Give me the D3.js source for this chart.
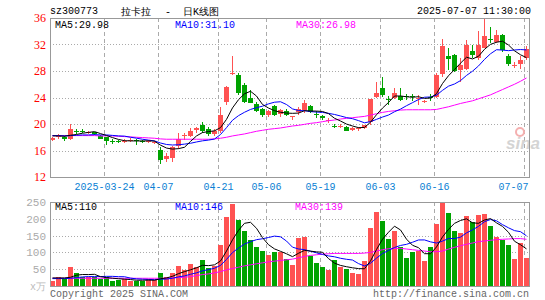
<!DOCTYPE html>
<html>
<head>
<meta charset="utf-8">
<script src="https://cdn.jsdelivr.net/npm/d3@7"></script>
<style>
body { margin: 0; background: #fff; }
svg text { font-family: "Liberation Mono", "DejaVu Sans Mono", monospace; font-size: 10px; }
</style>
</head>
<body>
<div id="container"></div>
<script>
/* DATA */
const dates = [
  "03-11","03-12","03-13","03-14","03-17","03-18","03-19","03-20","03-21","03-24",
  "03-25","03-26","03-27","03-28","03-31","04-01","04-02","04-03","04-07","04-08",
  "04-09","04-10","04-11","04-14","04-15","04-16","04-17","04-18","04-21","04-22",
  "04-23","04-24","04-25","04-28","04-29","04-30","05-06","05-07","05-08","05-09",
  "05-12","05-13","05-14","05-15","05-16","05-19","05-20","05-21","05-22","05-23",
  "05-26","05-27","05-28","05-29","05-30","06-03","06-04","06-05","06-06","06-09",
  "06-10","06-11","06-12","06-13","06-16","06-17","06-18","06-19","06-20","06-23",
  "06-24","06-25","06-26","06-27","06-30","07-01","07-02","07-03","07-04","07-07"
];
const openP = [
  17.7,18.05,18.1,17.8,18.9,18.95,18.6,18.75,18.25,18.0,
  17.4,17.4,17.4,17.45,17.6,17.45,17.3,17.25,16.1,14.7,
  14.8,16.7,18.2,18.3,19.0,19.9,19.3,18.45,19.0,23.4,
  27.55,27.4,25.9,24.0,23.0,22.2,21.35,22.7,21.5,22.0,
  21.05,21.7,22.1,22.7,21.45,21.2,20.55,19.75,19.65,19.6,
  19.1,19.15,19.35,20.2,24.1,25.5,23.7,23.9,24.3,24.3,
  24.2,23.9,23.3,24.15,24.1,27.4,30.3,30.4,28.2,28.3,
  31.0,29.9,31.5,32.8,32.4,33.5,30.2,28.85,29.0,29.9
];
const highP = [
  18.1,18.45,18.15,19.95,19.2,19.2,18.9,18.8,18.3,18.05,
  17.7,17.6,17.8,17.85,17.7,17.6,17.6,17.5,16.6,15.6,
  16.7,18.6,18.7,19.35,19.6,20.35,19.6,19.3,22.6,25.7,
  30.2,27.65,26.15,25.1,23.35,22.4,22.1,22.8,22.3,22.2,
  21.2,22.6,23.6,22.9,21.9,21.4,20.9,20.0,20.0,19.75,
  19.6,19.5,19.9,23.75,26.4,27.1,24.2,25.4,25.4,24.6,
  24.6,24.4,23.6,24.5,27.65,32.8,31.4,30.5,29.9,32.7,
  31.9,34.0,35.9,34.7,34.2,33.55,30.5,29.4,30.3,31.8
];
const lowP = [
  17.5,17.8,17.5,17.65,18.5,18.6,18.5,18.3,17.7,16.8,
  17.0,17.1,17.1,17.3,16.9,17.1,17.1,17.0,13.9,14.3,
  14.3,16.3,17.6,18.0,18.6,18.6,18.2,18.2,18.7,22.8,
  27.4,24.4,23.2,23.1,21.85,21.1,21.0,21.2,21.0,21.2,
  20.6,21.35,21.6,21.6,20.9,20.6,20.2,19.4,19.4,18.9,
  18.9,18.9,19.2,19.9,24.0,24.1,22.9,23.7,23.5,23.6,
  23.5,22.8,23.1,23.4,24.0,27.15,28.15,27.8,26.4,28.2,
  29.9,29.7,31.4,32.2,32.3,30.9,28.8,28.4,28.3,29.7
];
const closeP = [
  17.95,18.15,17.85,19.3,18.85,18.9,18.75,18.45,17.8,17.45,
  17.3,17.35,17.5,17.65,17.4,17.3,17.45,17.3,14.6,15.2,
  16.5,17.8,18.35,19.0,19.35,19.05,18.5,18.95,21.4,25.6,
  27.7,24.7,23.4,23.3,22.0,21.35,22.0,21.4,22.1,21.4,
  21.15,22.2,23.2,21.85,21.35,20.85,20.6,19.7,19.75,19.05,
  19.4,19.35,19.85,23.7,24.7,24.4,23.6,24.7,23.75,24.1,
  24.05,24.0,23.4,24.05,27.4,31.7,29.9,28.0,28.9,31.9,
  30.4,31.9,33.3,32.6,33.5,31.2,29.0,28.95,29.6,31.3
];
const ma5P = [
  18.2,18.2,18.15,18.3,18.42,18.61,18.73,18.85,18.55,18.27,
  17.95,17.67,17.48,17.45,17.44,17.44,17.46,17.42,16.81,16.37,
  16.21,16.28,16.49,17.37,18.2,18.71,18.85,18.97,19.45,20.7,
  22.43,23.67,24.56,24.94,24.22,22.95,22.41,22.01,21.77,21.65,
  21.61,21.65,22.01,21.96,21.95,21.89,21.57,20.87,20.45,19.99,
  19.7,19.45,19.48,20.27,21.4,22.4,23.25,24.22,24.23,24.11,
  24.04,24.12,23.86,23.92,24.58,26.11,27.29,28.21,29.18,30.08,
  29.82,30.22,31.28,32.02,32.34,32.5,31.92,31.05,30.45,30.01
];
const ma10P = [
  18.25,18.25,18.2,18.25,18.3,18.35,18.35,18.4,18.35,18.35,
  18.28,18.2,18.17,18.0,17.86,17.7,17.57,17.45,17.13,16.91,
  16.83,16.87,16.96,17.09,17.29,17.46,17.57,17.73,18.41,19.45,
  20.57,21.26,21.77,22.2,22.46,22.69,23.04,23.29,23.36,22.94,
  22.28,22.03,22.01,21.87,21.8,21.75,21.61,21.44,21.21,20.97,
  20.8,20.51,20.18,20.36,20.7,21.05,21.35,21.85,22.25,22.76,
  23.22,23.69,24.04,24.08,24.35,25.08,25.71,26.04,26.55,27.33,
  27.97,28.76,29.75,30.6,31.21,31.16,31.07,31.17,31.24,31.18
];
const ma30P = [
  18.25,18.25,18.25,18.25,18.25,18.25,18.25,18.25,18.2,18.2,
  18.2,18.15,18.1,18.05,18.0,17.95,17.9,17.85,17.75,17.7,
  17.7,17.7,17.7,17.7,17.7,17.7,17.7,17.75,17.85,18.0,
  18.2,18.35,18.5,18.7,18.9,19.05,19.2,19.3,19.4,19.55,
  19.7,19.8,19.95,20.1,20.2,20.35,20.5,20.6,20.75,20.85,
  20.95,21.05,21.15,21.35,21.55,21.75,21.9,22.0,22.1,22.15,
  22.15,22.15,22.15,22.15,22.2,22.4,22.6,22.85,23.1,23.3,
  23.5,23.8,24.1,24.4,24.8,25.2,25.6,26.0,26.45,26.95
];
const volume = [
  16,27,22,57,39,26,26,26,22,26,
  16,18,20,16,16,16,20,18,38,28,
  40,60,48,65,58,77,55,60,122,206,
  244,196,165,137,117,104,92,102,101,80,
  62,142,145,90,69,56,48,77,56,50,
  40,36,74,173,220,193,140,164,117,83,
  102,104,75,116,184,251,217,164,159,209,
  191,210,213,180,146,138,122,80,128,84
];
const ma5V = [
  24,24,24,26,32.2,34.2,34,34.8,27.8,25.2,
  23.2,21.6,20.4,19.2,17.2,17.2,17.6,17.2,21.6,24,
  28.8,36.8,42.8,48.2,54.2,61.6,60.6,63,74.4,104,
  137.4,165.6,186.6,189.6,171.8,143.8,123,110.4,103.2,95.8,
  87.4,97.4,106,103.8,101.6,100.4,81.6,68,61.2,57.4,
  54.2,51.8,51.2,74.6,108.6,139.2,160,178,166.8,139.4,
  121.2,114,96.2,96,116.2,146,168.6,186.4,195,200,
  188,186.6,196.4,200.6,188,177.4,159.8,133.2,122.8,110.4
];
const ma10V = [
  22,22,22,23,25,27,28,28,28,28.7,
  28.7,27.8,27.6,23.5,21.2,20.2,19.6,18.8,20.4,20.6,
  23,27.2,30,34.9,39.1,45.2,48.7,52.9,61.3,79.1,
  99.5,113.1,124.8,132,137.9,140.6,144.3,148.5,146.4,133.8,
  115.6,110.2,108.2,103.5,98.7,93.9,89.5,87,82.5,79.5,
  77.3,66.7,59.6,67.9,83,96.7,105.9,114.6,120.7,124,
  130.2,137,137.1,131.4,127.8,133.6,141.3,141.3,145.5,158.1,
  167,177.6,191.4,197.8,194,182.7,173.2,164.8,161.7,149.2
];
const ma30V = [
  23,23,23,23,23,23,23,23,23,23,
  23,23,23,23,23,23,23,23,23,23,
  24,25,26,28,31,34,36,39,43,48,
  52,56,60,63,66,69,72,74,76,78,
  80,84,88,91,93,95,96,97,97,97,
  97,97,98,100,104,108,111,112,112,110,
  108,106,104,102,102,104,110,115,120,124,
  128,132,134,136,138,139,140,141,141,139
];
const tickDates = ["03-24","04-07","04-21","05-06","05-19","06-03","06-16","07-07"];
const tickLabels = ["2025-03-24","04-07","04-21","05-06","05-19","06-03","06-16","07-07"];
const priceTicks = [12,16,20,24,28,32,36];
const volTicks = [50,100,150,200,250];

/* CONSTANTS */
const width = 545, height = 300;
const left = 50, right = 530;
const pTop = 18, pBottom = 177;
const vTop = 202, vBottom = 286;
const RED = "#ff5252", GREEN = "#00a300", GRID = "#aaa";

const svg = d3.select("#container").append("svg")
  .attr("width", width).attr("height", height);

/* SCALES */
const x = d3.scaleBand().domain(dates).range([left, right]);
const yP = d3.scaleLinear().domain([12, 36]).range([pBottom, pTop]);
const yV = d3.scaleLinear().domain([0, 250]).range([vBottom, vTop]);
const cx = i => x(dates[i]) + 2.5;

// grids
[[yP, priceTicks.slice(1, -1)], [yV, volTicks.slice(0, -1)]].forEach(([s, t]) => {
  svg.append("g").selectAll("line").data(t).join("line")
    .attr("x1", left).attr("x2", right)
    .attr("y1", d => Math.round(s(d)) + 0.5).attr("y2", d => Math.round(s(d)) + 0.5)
    .attr("stroke", GRID).attr("stroke-dasharray", "1,2");
});
[[pTop, pBottom], [vTop, vBottom]].forEach(([a, b]) => {
  svg.append("g").selectAll("line").data(tickDates).join("line")
    .attr("x1", d => x(d) + 0.5).attr("x2", d => x(d) + 0.5)
    .attr("y1", a).attr("y2", b)
    .attr("stroke", GRID).attr("stroke-dasharray", "4,3");
});

// watermark
const wm = svg.append("g").attr("transform", "translate(506,149)");
wm.append("text").text("sina").attr("fill", "#d4d4d4")
  .style("font-family", "Liberation Sans, sans-serif").style("font-size", "17px")
  .style("font-weight", "bold").style("font-style", "italic");
wm.append("circle").attr("cx", 14).attr("cy", -17).attr("r", 4)
  .attr("fill", "none").attr("stroke", "#f4b0b0").attr("stroke-width", 2);

/* CANDLES */
const idx = d3.range(dates.length);
const col = i => closeP[i] >= openP[i] ? RED : GREEN;
const candles = svg.append("g").attr("shape-rendering", "crispEdges");
candles.selectAll("line").data(idx).join("line")
  .attr("x1", i => Math.floor(cx(i)) + 0.5).attr("x2", i => Math.floor(cx(i)) + 0.5)
  .attr("y1", i => yP(highP[i])).attr("y2", i => yP(lowP[i]))
  .attr("stroke", col);
candles.selectAll("rect").data(idx).join("rect")
  .attr("x", i => x(dates[i]))
  .attr("width", 5)
  .attr("y", i => Math.round(yP(Math.max(openP[i], closeP[i]))))
  .attr("height", i => Math.max(1, Math.round(Math.abs(yP(openP[i]) - yP(closeP[i])))))
  .attr("fill", col);

/* VOLUME */
svg.append("g").attr("shape-rendering", "crispEdges")
  .selectAll("rect").data(idx).join("rect")
  .attr("x", i => x(dates[i]))
  .attr("width", 5)
  .attr("y", i => Math.round(yV(volume[i])))
  .attr("height", i => vBottom - Math.round(yV(volume[i])))
  .attr("fill", col);

/* MA LINES */
const lineP = d3.line().x((d, i) => cx(i)).y(d => yP(d));
const lineV = d3.line().x((d, i) => cx(i)).y(d => yV(d));
[[ma30P, "#ff00ff"], [ma10P, "#0000ff"], [ma5P, "#000"]].forEach(([s, c]) =>
  svg.append("path").datum(s).attr("d", lineP).attr("fill", "none").attr("stroke", c));
[[ma30V, "#ff00ff"], [ma10V, "#0000ff"], [ma5V, "#000"]].forEach(([s, c]) =>
  svg.append("path").datum(s).attr("d", lineV).attr("fill", "none").attr("stroke", c));

// frames
[[pTop, pBottom], [vTop, vBottom]].forEach(([a, b]) =>
  svg.append("rect").attr("x", left + 0.5).attr("y", a + 0.5)
    .attr("width", right - left - 1).attr("height", b - a)
    .attr("fill", "none").attr("stroke", "#999"));

/* AXES */
const yAxisP = svg.append("g").attr("transform", `translate(${left - 4},0)`)
  .call(d3.axisLeft(yP).tickValues(priceTicks).tickSize(0).tickPadding(0));
yAxisP.select(".domain").remove();
yAxisP.selectAll("text").attr("fill", "#ff0000")
  .style("font-family", "Liberation Serif, serif").style("font-size", "12px");

const yAxisV = svg.append("g").attr("transform", `translate(${left - 4},0)`)
  .call(d3.axisLeft(yV).tickValues(volTicks).tickSize(0).tickPadding(0));
yAxisV.select(".domain").remove();
yAxisV.selectAll("text").attr("fill", "#aaa").style("font-size", "11px");
svg.append("text").attr("x", left - 4).attr("y", vBottom + 4).attr("text-anchor", "end")
  .attr("fill", "#bbb").style("font-size", "10px").text("x万");

const xAxis = svg.append("g").attr("transform", `translate(0,${pBottom + 4})`)
  .call(d3.axisBottom(x).tickValues(tickDates).tickSize(0).tickPadding(0)
    .tickFormat((d, i) => tickLabels[i]));
xAxis.select(".domain").remove();
xAxis.selectAll(".tick").attr("transform", d => `translate(${x(d) + 0.5},0)`);
xAxis.selectAll("text").attr("fill", "#0a7fd4").attr("dy", "0.9em");
xAxis.selectAll(".tick").filter(d => d === "07-07").select("text")
  .attr("text-anchor", "end").attr("x", 4);

/* TEXTS */
svg.append("text").attr("x", 50).attr("y", 14).attr("fill", "#000").text("sz300773");
const title = svg.append("g").style("font-family", "Noto Sans CJK SC, sans-serif")
  .style("font-size", "12px").attr("fill", "#000");
[[121, "拉卡拉"], [165, "-"], [183, "日K线图"]].forEach(([tx, t]) =>
  title.append("text").attr("x", tx).attr("y", 15).text(t));
svg.append("text").attr("x", 531).attr("y", 14).attr("text-anchor", "end")
  .attr("fill", "#000").text("2025-07-07 11:30:00");

const labels = [
  [55, 28, "#000", "MA5:29.98"], [175, 28, "#0000ff", "MA10:31.10"], [296, 28, "#ff00ff", "MA30:26.98"],
  [55, 210, "#000", "MA5:110"], [175, 210, "#0000ff", "MA10:146"], [295, 210, "#ff00ff", "MA30:139"]
];
svg.append("g").selectAll("text").data(labels).join("text")
  .attr("x", d => d[0]).attr("y", d => d[1]).attr("fill", d => d[2]).text(d => d[3]);

svg.append("text").attr("x", 50).attr("y", 297).attr("fill", "#666").text("Copyright 2025 SINA.COM");
svg.append("text").attr("x", 529).attr("y", 297).attr("text-anchor", "end")
  .attr("fill", "#666").text("http://finance.sina.com.cn");
</script>
</body>
</html>
